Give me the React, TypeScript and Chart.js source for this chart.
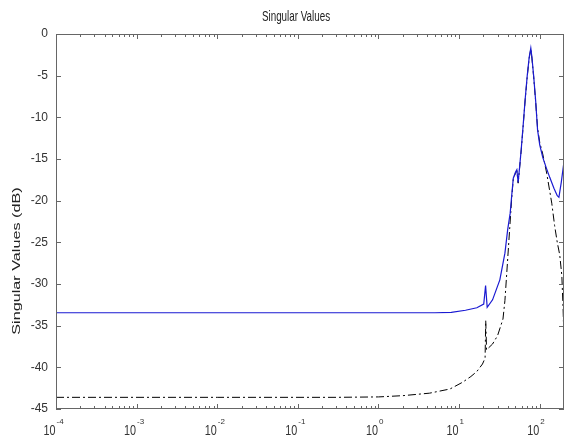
import React, { useEffect, useRef } from "react";
import { Chart, registerables } from "chart.js";

Chart.register(...registerables);

// ---- Data ----
const blueFreq = [1e-4, 1e-2, 1, 5, 8, 12, 16.6, 20.2, 21.3, 22.3, 26, 32, 37, 40, 43, 45, 47, 50, 52, 54, 56.5, 59, 62, 66, 70, 74, 77.5, 80, 84, 89, 94, 100, 109, 120, 133, 150, 165, 173, 185, 200];
const blueDb = [-33.45, -33.45, -33.45, -33.45, -33.4, -33.15, -32.85, -32.4, -30.2, -32.8, -31.9, -29.5, -26.3, -23.5, -21.5, -19.3, -17.3, -16.6, -16.3, -17.8, -15.8, -13.8, -11.2, -7.8, -5, -2.8, -1.7, -2.8, -5, -8, -11.5, -13.3, -14.8, -16, -17.2, -18.5, -19.4, -19.6, -17.8, -15.3];

const blackFreq = [1e-4, 1e-2, 0.3, 1, 2, 4.3, 7.7, 11, 14, 16.6, 19.5, 21.0, 21.4, 21.9, 26, 30, 35, 37, 39, 42.5, 45, 47, 50, 52, 54, 56.5, 59, 62, 66, 70, 74, 77.5, 80, 84, 89, 94, 100, 109, 122, 141, 153, 165, 177, 188, 195, 200];
const blackDb = [-43.6, -43.6, -43.6, -43.55, -43.4, -43.1, -42.6, -41.8, -41.1, -40.5, -39.6, -38.9, -34.4, -37.9, -37.2, -36.2, -34.2, -32, -28.7, -23.2, -19.6, -17.4, -16.7, -16.4, -17.9, -15.9, -13.9, -11.3, -7.9, -5.1, -2.9, -1.8, -2.9, -5.1, -8.1, -11.3, -13, -14.4, -16.7, -20.3, -23, -25, -26.5, -29, -33, -37];

const yTickValues = [0, -5, -10, -15, -20, -25, -30, -35, -40, -45];
const xDecades = [-4, -3, -2, -1, 0, 1, 2];
const xMin = 1e-4;
const xMax = 200;
const yMin = -45;
const yMax = 0;

const chartTitle = "Singular Values";
const yAxisTitle = "Singular Values (dB)";

const FONT = "'Liberation Sans', Arial, sans-serif";

function drawScaledText(
  ctx: CanvasRenderingContext2D,
  text: string,
  x: number,
  y: number,
  size: number,
  align: CanvasTextAlign,
  sx: number,
  sy: number,
  rotate = 0
) {
  ctx.save();
  ctx.translate(x, y);
  if (rotate) ctx.rotate(rotate);
  ctx.scale(sx, sy);
  ctx.font = `${size}px ${FONT}`;
  ctx.textAlign = align;
  ctx.textBaseline = "alphabetic";
  ctx.fillText(text, 0, 0);
  ctx.restore();
}

const matlabFrame = {
  id: "matlabFrame",
  afterDraw(chart: any) {
    const { ctx, chartArea: a, scales } = chart;
    const xs = scales.x;
    const ys = scales.y;
    ctx.save();
    ctx.strokeStyle = "#666";
    ctx.lineWidth = 1;
    ctx.strokeRect(a.left + 0.5, a.top + 0.5, a.right - a.left - 1, a.bottom - a.top - 1);

    ctx.beginPath();
    for (const v of yTickValues) {
      const py = Math.round(ys.getPixelForValue(v)) + 0.5;
      ctx.moveTo(a.left, py);
      ctx.lineTo(a.left + 5, py);
      ctx.moveTo(a.right, py);
      ctx.lineTo(a.right - 5, py);
    }
    for (const d of xDecades) {
      for (let m = 1; m <= 9; m++) {
        const v = m * Math.pow(10, d);
        if (v > xMax * 1.0001 || v < xMin * 0.9999) continue;
        const px = Math.round(xs.getPixelForValue(v)) + 0.5;
        const len = m === 1 ? 5 : 3;
        ctx.moveTo(px, a.bottom);
        ctx.lineTo(px, a.bottom - len);
        ctx.moveTo(px, a.top);
        ctx.lineTo(px, a.top + len);
      }
    }
    ctx.stroke();

    // x tick labels: 10 with superscript exponent
    ctx.fillStyle = "#333";
    for (const d of xDecades) {
      const px = xs.getPixelForValue(Math.pow(10, d));
      drawScaledText(ctx, "10", px - 0.5, 435, 12, "right", 0.9, 1.15);
      drawScaledText(ctx, String(d), px + 0.5, 424, 8, "left", 1, 1);
    }

    // title
    ctx.fillStyle = "#222";
    drawScaledText(ctx, chartTitle, 296, 21, 12, "center", 0.82, 1.2);
    // y axis title
    drawScaledText(ctx, yAxisTitle, 20, 261, 12, "center", 1.35, 0.85, -Math.PI / 2);
    ctx.restore();
  },
};

const App = () => {
  const ref = useRef<HTMLCanvasElement>(null);
  useEffect(() => {
    if (!ref.current) return;
    const chart = new Chart(ref.current, {
      type: "line",
      data: {
        datasets: [
          {
            label: "sv1",
            data: blueFreq.map((f, i) => ({ x: f, y: blueDb[i] })),
            borderColor: "#1a1ad2",
            borderWidth: 1.2,
            pointRadius: 0,
            tension: 0,
            fill: false,
          },
          {
            label: "sv2",
            data: blackFreq.map((f, i) => ({ x: f, y: blackDb[i] })),
            borderColor: "#000",
            borderWidth: 1,
            borderDash: [8, 3, 2, 3],
            pointRadius: 0,
            tension: 0,
            fill: false,
          },
        ],
      },
      options: {
        responsive: false,
        animation: false,
        layout: { padding: { top: 34, right: 0, left: 0, bottom: 0 } },
        plugins: {
          legend: { display: false },
          title: { display: false },
          tooltip: { enabled: false },
        },
        scales: {
          x: {
            type: "logarithmic",
            min: xMin,
            max: xMax,
            grid: { display: false, drawTicks: false },
            border: { display: false },
            ticks: { display: false },
            afterFit: (s: any) => {
              s.height = 27;
            },
          },
          y: {
            type: "linear",
            min: yMin,
            max: yMax,
            grid: { display: false, drawTicks: false },
            border: { display: false },
            ticks: {
              stepSize: 5,
              padding: 8,
              color: "#333",
              font: { family: FONT, size: 12 },
            },
            afterFit: (s: any) => {
              s.width = 56;
            },
          },
        },
      },
      plugins: [matlabFrame],
    });
    return () => chart.destroy();
  }, []);
  return (
    <div style={{ position: "fixed", left: 0, top: 0, width: 564, height: 436, background: "#fff" }}>
      <canvas ref={ref} width={564} height={436} style={{ display: "block", width: 564, height: 436 }} />
    </div>
  );
};

export default App;
